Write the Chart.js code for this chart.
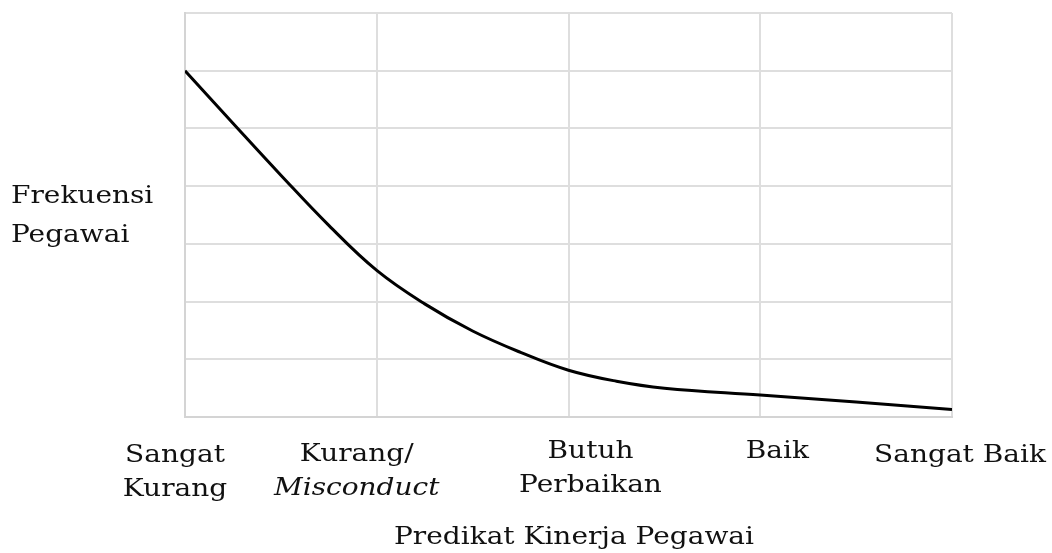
<!DOCTYPE html>
<html>
<head>
<meta charset="utf-8">
<script src="https://cdn.jsdelivr.net/npm/chart.js@4.4.1/dist/chart.umd.min.js"></script>
<style>
  html, body { margin: 0; padding: 0; background: #fff; }
  #wrap { width: 1052px; height: 553px; position: relative; }
</style>
</head>
<body>
<div id="wrap"><canvas id="kinerjaChart"></canvas></div>
<script>
// Kategori predikat (sumbu X)
const categories = [
  ['Sangat', 'Kurang'],
  ['Kurang/', 'Misconduct'],
  ['Butuh', 'Perbaikan'],
  ['Baik'],
  ['Sangat Baik']
];
const italicLines = ['Misconduct'];

// Titik kurva (posisi x dalam satuan kategori)
const curveX = [0, 0.25, 0.5, 0.75, 1, 1.25, 1.5, 1.75, 2, 2.25, 2.5, 3, 3.5, 4];
const curveY = [6.0, 5.09, 4.19, 3.32, 2.54, 1.96, 1.49, 1.12, 0.81, 0.62, 0.5, 0.38, 0.26, 0.13];

const yTicks = [0, 1, 2, 3, 4, 5, 6, 7];
const yTitle = ['Frekuensi', 'Pegawai'];
const xTitle = 'Predikat Kinerja Pegawai';

const FONT = '"DejaVu Serif", "Liberation Serif", serif';
const STRETCH = 1.12; // huruf asli lebih lebar

// geser label supaya mirip gambar asli
const labelShiftX = [-10, -20, 22, 17, 8];
const labelBaseY = [462, 461, 458, 458, 462];
const lineGap = 34;

function wideText(ctx, txt, x, y) {
  ctx.save();
  ctx.translate(x, y);
  ctx.scale(STRETCH, 1);
  ctx.fillText(txt, 0, 0);
  ctx.restore();
}

const labelPlugin = {
  id: 'labelPlugin',
  afterDraw(chart) {
    const ctx = chart.ctx;
    const xs = chart.scales.x;
    ctx.save();
    ctx.fillStyle = '#111';
    ctx.textAlign = 'center';
    ctx.textBaseline = 'alphabetic';
    categories.forEach((lines, i) => {
      const px = xs.getPixelForValue(i) + labelShiftX[i];
      lines.forEach((txt, j) => {
        const italic = italicLines.includes(txt) ? 'italic ' : '';
        ctx.font = italic + '25px ' + FONT;
        wideText(ctx, txt, px, labelBaseY[i] + j * lineGap);
      });
    });
    // judul sumbu X
    ctx.font = '25px ' + FONT;
    wideText(ctx, xTitle, 574, 544);
    // judul sumbu Y (horizontal, rata kiri)
    ctx.textAlign = 'left';
    yTitle.forEach((txt, j) => {
      wideText(ctx, txt, 11, 203 + j * 39);
    });
    ctx.restore();
  }
};

const points = curveX.map((x, i) => ({ x: x, y: curveY[i] }));

new Chart(document.getElementById('kinerjaChart'), {
  type: 'line',
  data: {
    datasets: [{
      data: points,
      borderColor: '#000',
      borderWidth: 3,
      pointRadius: 0,
      fill: false,
      tension: 0.4
    }]
  },
  options: {
    responsive: true,
    maintainAspectRatio: false,
    animation: false,
    layout: { padding: { left: 185, right: 100, top: 13, bottom: 136 } },
    plugins: { legend: { display: false }, tooltip: { enabled: false } },
    scales: {
      x: {
        type: 'linear',
        min: 0,
        max: categories.length - 1,
        ticks: { display: false, stepSize: 1 },
        grid: { color: '#dedede', lineWidth: 2, drawTicks: false },
        border: { color: '#d4d4d4', width: 2 }
      },
      y: {
        min: yTicks[0],
        max: yTicks[yTicks.length - 1],
        ticks: { display: false, stepSize: 1 },
        grid: { color: '#dedede', lineWidth: 2, drawTicks: false },
        border: { color: '#d4d4d4', width: 2 }
      }
    }
  },
  plugins: [labelPlugin]
});
</script>
</body>
</html>
